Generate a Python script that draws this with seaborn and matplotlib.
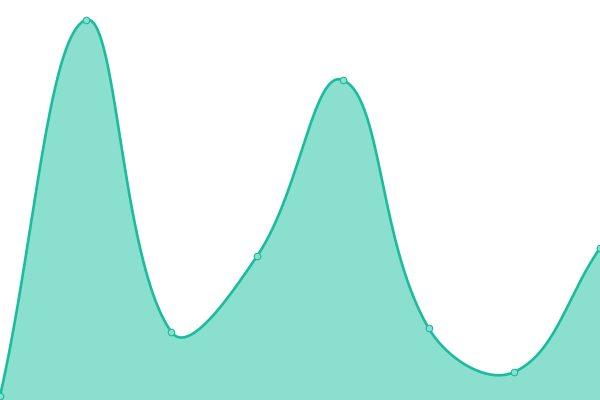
import numpy as np
import pandas as pd
import seaborn as sns
import matplotlib.pyplot as plt

labels = ['A', 'B', 'C', 'D', 'E', 'F', 'G', 'H']
values = [1, 95, 17, 36, 80, 18, 7, 38]

line_color = '#1abc9c'
fill_color = '#8adfcf'
tension = 0.4


def spline(xs, ys, sx, sy, steps=60):
    # chart.js style bezier smoothing, distances measured in pixels
    px = np.array(xs, float) * sx
    py = np.array(ys, float) * sy
    n = len(px)
    cp_prev = np.zeros((n, 2))
    cp_next = np.zeros((n, 2))
    for i in range(n):
        p0 = (px[max(i - 1, 0)], py[max(i - 1, 0)])
        p1 = (px[i], py[i])
        p2 = (px[min(i + 1, n - 1)], py[min(i + 1, n - 1)])
        d01 = np.hypot(p1[0] - p0[0], p1[1] - p0[1])
        d12 = np.hypot(p2[0] - p1[0], p2[1] - p1[1])
        tot = d01 + d12
        s01 = d01 / tot if tot else 0
        s12 = d12 / tot if tot else 0
        fa = tension * s01
        fb = tension * s12
        cp_prev[i] = (p1[0] - fa * (p2[0] - p0[0]), p1[1] - fa * (p2[1] - p0[1]))
        cp_next[i] = (p1[0] + fb * (p2[0] - p0[0]), p1[1] + fb * (p2[1] - p0[1]))
    out_x, out_y = [], []
    t = np.linspace(0, 1, steps)
    for i in range(n - 1):
        a = np.array([px[i], py[i]])
        b = cp_next[i]
        c = cp_prev[i + 1]
        d = np.array([px[i + 1], py[i + 1]])
        seg = ((1 - t) ** 3)[:, None] * a + (3 * (1 - t) ** 2 * t)[:, None] * b \
            + (3 * (1 - t) * t ** 2)[:, None] * c + (t ** 3)[:, None] * d
        out_x.extend(seg[:, 0] / sx)
        out_y.extend(seg[:, 1] / sy)
    return np.array(out_x), np.array(out_y)


idx = np.arange(len(values))
cx, cy = spline(idx, values, 600 / (len(values) - 1), 4.0)
curve = pd.DataFrame({'x': cx, 'y': cy})
pts = pd.DataFrame({'x': idx, 'y': values})

fig = plt.figure(figsize=(6, 4), dpi=100)
ax = fig.add_axes([0, 0, 1, 1])
ax.fill_between(cx, 0, cy, color=fill_color, lw=0)
sns.lineplot(data=curve, x='x', y='y', sort=False, color=line_color, lw=1.9, ax=ax)
sns.scatterplot(data=pts, x='x', y='y', s=22, color=fill_color, edgecolor=line_color,
                linewidth=0.8, zorder=5, ax=ax)
ax.set_xlim(0, len(values) - 1)
ax.set_ylim(0, 100)
ax.set_axis_off()
fig.savefig('out.png', dpi=100)
